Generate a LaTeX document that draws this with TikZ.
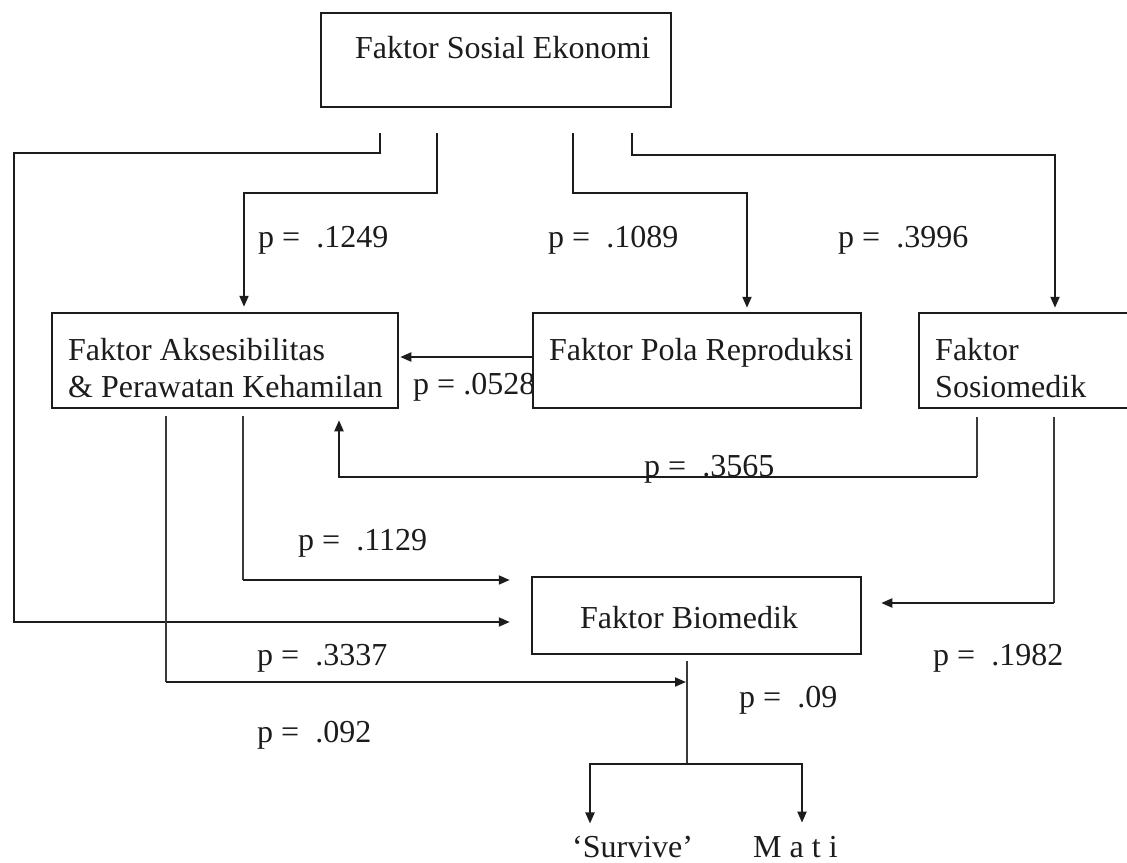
\documentclass[tikz,border=0pt]{standalone}
\usepackage{fontspec}
\setmainfont{Liberation Serif}
\usetikzlibrary{arrows.meta}
\definecolor{ink}{HTML}{1C1C1C}
\definecolor{thinink}{HTML}{3A3A3A}
\begin{document}
\begin{tikzpicture}[x=1pt,y=-1pt,
  every node/.style={font=\fontsize{32}{37}\selectfont, text=ink},
  box/.style={draw=ink, line width=2.5pt, inner sep=0pt},
  lbl/.style={anchor=base west, inner sep=0pt},
  conn/.style={draw=ink, line width=2pt},
  thinl/.style={draw=thinink, line width=1.1pt},
  arr/.style={-{Triangle[length=11pt,width=9pt]}}]
\useasboundingbox[fill=white] (0,0) rectangle (1127,862);

% boxes
\node[box, minimum width=350pt, minimum height=94pt] (se)  at (496,60) {};
\node[box, minimum width=346pt, minimum height=95pt] (ak)  at (225,360.5) {};
\node[box, minimum width=328pt, minimum height=95pt] (po)  at (697,360.5) {};
\node[box, minimum width=216pt, minimum height=95pt] (so)  at (1027,360.5) {};
\node[box, minimum width=329pt, minimum height=77pt] (bio) at (696.5,615.5) {};

% box texts
\node[lbl] (tse)  at (355,58)  {Faktor Sosial Ekonomi};
\node[lbl] (tak1) at (68,360)  {Faktor Aksesibilitas};
\node[lbl] (tak2) at (68,397)  {\& Perawatan Kehamilan};
\node[lbl] (tpo)  at (549,360) {Faktor Pola Reproduksi};
\node[lbl] (tso1) at (935,360) {Faktor};
\node[lbl] (tso2) at (935,397) {Sosiomedik};
\node[lbl] (tbio) at (580,628) {Faktor Biomedik};
\node[lbl] (sv)   at (572,857) {‘Survive’};
\node[lbl] (mt)   at (753,857) {M a t i};

% p-value labels
\node[lbl] (p1)  at (258,247) {p = \ .1249};
\node[lbl] (p2)  at (548,247) {p = \ .1089};
\node[lbl] (p3)  at (838,247) {p = \ .3996};
\node[lbl] (p4)  at (413,394) {p = .0528};
\node[lbl] (p5)  at (644,476) {p = \ .3565};
\node[lbl] (p6)  at (298,550) {p = \ .1129};
\node[lbl] (p7)  at (257,665) {p = \ .3337};
\node[lbl] (p8)  at (257,742) {p = \ .092};
\node[lbl] (p9)  at (933,665) {p = \ .1982};
\node[lbl] (p10) at (739,707) {p = \ .09};

% connectors leaving Faktor Sosial Ekonomi
\draw[conn, arr, shorten <=25pt, shorten >=21pt]
  (se.south -| 380,0) -- (380,153) -- (14,153) -- (14,622) -- (bio.west |- 0,622);
\draw[conn, arr, shorten <=25pt, shorten >=5pt]
  (se.south -| 437,0) -- (437,193) -- (244,193) -- (ak.north -| 244,0);
\draw[conn, arr, shorten <=25pt, shorten >=4pt]
  (se.south -| 573,0) -- (573,193) -- (747,193) -- (po.north -| 747,0);
\draw[conn, arr, shorten <=25pt, shorten >=4pt]
  (se.south -| 632,0) -- (632,155) -- (1055,155) -- (so.north -| 1055,0);

% Pola Reproduksi to Aksesibilitas
\draw[conn, arr, shorten >=1pt] (po.west |- 0,357) -- (ak.east |- 0,357);

% Sosiomedik to Aksesibilitas
\draw[thinl, shorten <=8pt] (so.south -| 977,0) -- (977,477);
\draw[conn, arr, shorten >=11pt] (977,477) -- (339,477) -- (ak.south -| 339,0);

% Aksesibilitas to Biomedik
\draw[thinl, shorten <=7pt] (ak.south -| 243,0) -- (243,580);
\draw[conn, arr, shorten >=21pt] (243,580) -- (bio.west |- 0,580);

% Aksesibilitas to the Biomedik outcome line
\coordinate (jn) at (687,682);
\draw[thinl, shorten <=7pt] (ak.south -| 166,0) -- (166,682);
\draw[conn, arr, shorten >=1pt] (166,682) -- (jn);

% Sosiomedik to Biomedik
\draw[thinl, shorten <=8pt] (so.south -| 1054,0) -- (1054,603);
\draw[conn, arr, shorten >=19pt] (1054,603) -- (bio.east |- 0,603);

% Biomedik to outcomes
\draw[thinl, shorten <=6pt] (bio.south -| 687,0) -- (687,764);
\draw[conn, arr, shorten >=12pt] (687,764) -| (sv.north -| 590,0);
\draw[conn, arr, shorten >=13pt] (687,764) -| (mt.north -| 802,0);
\end{tikzpicture}
\end{document}
